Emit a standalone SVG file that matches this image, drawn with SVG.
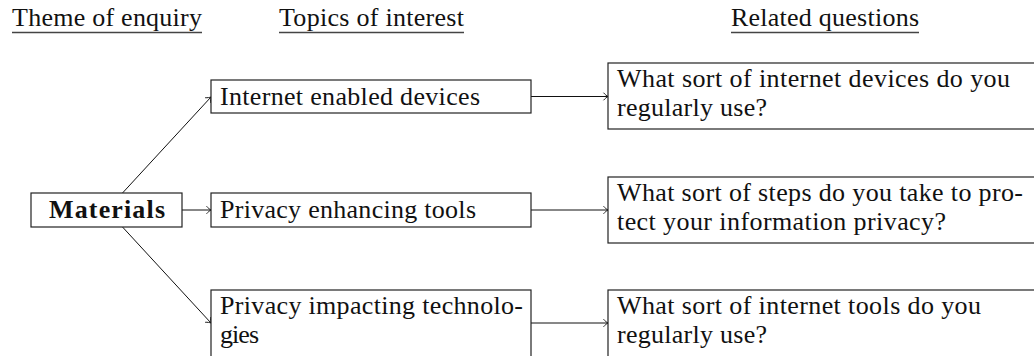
<svg xmlns="http://www.w3.org/2000/svg" width="1034" height="356" viewBox="0 0 1034 356">
  <style>
    text { font-family: "Liberation Serif", "Times New Roman", serif; font-size: 26px; fill: #111; }
    .b { font-weight: bold; }
    .box { fill: #fff; stroke: #222; stroke-width: 1.2; }
    .ul { stroke: #444; stroke-width: 1.3; }
    .con { stroke: #111; stroke-width: 1; fill: none; }
  </style>
  <defs>
    <marker id="arr" viewBox="-6 -5 7 10" refX="0" refY="0" markerWidth="7" markerHeight="10" orient="auto" markerUnits="userSpaceOnUse">
      <path d="M -4.5 -3.8 C -3 -2 -1.2 -0.6 0 0 C -1.2 0.6 -3 2 -4.5 3.8" fill="none" stroke="#111" stroke-width="0.9"/>
    </marker>
  </defs>

  <g id="headers">
    <text x="12" y="26" textLength="190" lengthAdjust="spacing">Theme of enquiry</text>
    <line class="ul" x1="12" y1="32.5" x2="202" y2="32.5"/>
    <text x="279" y="26" textLength="185" lengthAdjust="spacing">Topics of interest</text>
    <line class="ul" x1="279" y1="32.5" x2="464" y2="32.5"/>
    <text x="731" y="26" textLength="188" lengthAdjust="spacing">Related questions</text>
    <line class="ul" x1="731" y1="32.5" x2="919" y2="32.5"/>
  </g>

  <g id="connectors">
    <line class="con" x1="122.5" y1="193" x2="211" y2="97" marker-end="url(#arr)"/>
    <line class="con" x1="182" y1="210" x2="211" y2="210" marker-end="url(#arr)"/>
    <line class="con" x1="122.5" y1="227" x2="211" y2="323" marker-end="url(#arr)"/>
    <line class="con" x1="531" y1="96.5" x2="608" y2="96.5" marker-end="url(#arr)"/>
    <line class="con" x1="531" y1="210" x2="608" y2="210" marker-end="url(#arr)"/>
    <line class="con" x1="531" y1="323" x2="608" y2="323" marker-end="url(#arr)"/>
  </g>

  <g id="materials">
    <rect class="box" x="31" y="193" width="151" height="34"/>
    <text class="b" x="49" y="218" textLength="116" lengthAdjust="spacing">Materials</text>
  </g>

  <g id="topic-devices">
    <rect class="box" x="211" y="80" width="320" height="33"/>
    <text x="220" y="104.5" textLength="260" lengthAdjust="spacing">Internet enabled devices</text>
  </g>

  <g id="topic-tools">
    <rect class="box" x="211" y="193" width="320" height="34"/>
    <text x="220" y="218" textLength="256" lengthAdjust="spacing">Privacy enhancing tools</text>
  </g>

  <g id="topic-technologies">
    <rect class="box" x="211" y="290" width="320" height="70"/>
    <text x="220" y="313.5" textLength="303" lengthAdjust="spacing">Privacy impacting technolo-</text>
    <text x="220" y="342.5" textLength="39" lengthAdjust="spacing">gies</text>
  </g>

  <g id="question-devices">
    <rect class="box" x="608" y="63" width="440" height="66"/>
    <text x="617" y="86.5" textLength="393" lengthAdjust="spacing">What sort of internet devices do you</text>
    <text x="617" y="115.5" textLength="150" lengthAdjust="spacing">regularly use?</text>
  </g>

  <g id="question-steps">
    <rect class="box" x="608" y="177" width="440" height="66"/>
    <text x="617" y="200.5" textLength="406" lengthAdjust="spacing">What sort of steps do you take to pro-</text>
    <text x="617" y="229.5" textLength="329" lengthAdjust="spacing">tect your information privacy?</text>
  </g>

  <g id="question-tools">
    <rect class="box" x="608" y="290" width="440" height="70"/>
    <text x="617" y="313.5" textLength="364" lengthAdjust="spacing">What sort of internet tools do you</text>
    <text x="617" y="342.5" textLength="150" lengthAdjust="spacing">regularly use?</text>
  </g>
</svg>
